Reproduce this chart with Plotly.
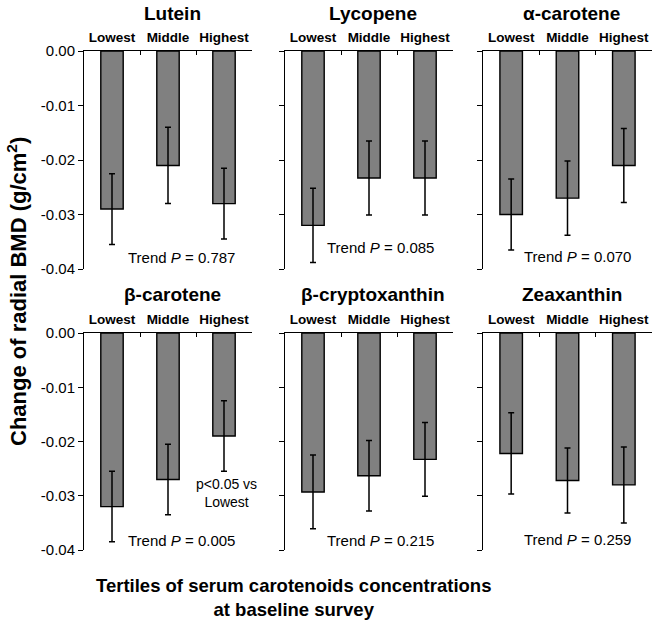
import plotly.graph_objects as go

categories = ["Lowest", "Middle", "Highest"]
panel_titles = ["Lutein", "Lycopene", "α-carotene", "β-carotene", "β-cryptoxanthin", "Zeaxanthin"]
means = {
    "Lutein": [-0.029, -0.021, -0.028],
    "Lycopene": [-0.032, -0.0233, -0.0233],
    "α-carotene": [-0.030, -0.027, -0.021],
    "β-carotene": [-0.032, -0.027, -0.019],
    "β-cryptoxanthin": [-0.0293, -0.0263, -0.0233],
    "Zeaxanthin": [-0.0222, -0.0272, -0.0280],
}
errors = {
    "Lutein": [0.0065, 0.0070, 0.0065],
    "Lycopene": [0.0068, 0.0068, 0.0068],
    "α-carotene": [0.0065, 0.0068, 0.0068],
    "β-carotene": [0.0065, 0.0065, 0.0065],
    "β-cryptoxanthin": [0.0068, 0.0065, 0.0068],
    "Zeaxanthin": [0.0075, 0.0060, 0.0070],
}
trend_p = ["0.787", "0.085", "0.070", "0.005", "0.215", "0.259"]
y_tickvals = [0.0, -0.01, -0.02, -0.03, -0.04]
y_ticktext = ["0.00", "-0.01", "-0.02", "-0.03", "-0.04"]

W, H = 658, 627
FONT = "Liberation Sans, Arial, sans-serif"

# pixel layout (window coordinates)
col_px = [(84, 252), (285, 453), (483, 652)]
row_px = [(51, 269), (333, 550)]

def px_x(x):
    return x / W

def px_y(y):
    return 1 - y / H

fig = go.Figure()
for i, name in enumerate(panel_titles):
    r, c = divmod(i, 3)
    n = i + 1
    xa = "x" if n == 1 else f"x{n}"
    ya = "y" if n == 1 else f"y{n}"
    fig.add_trace(go.Bar(
        x=categories, y=means[name], xaxis=xa, yaxis=ya,
        width=0.4,
        marker=dict(color="#808080", line=dict(color="black", width=1.4)),
        error_y=dict(type="data", array=errors[name], visible=True,
                     color="black", thickness=1.5, width=3),
        showlegend=False,
    ))
    xkey = "xaxis" if n == 1 else f"xaxis{n}"
    ykey = "yaxis" if n == 1 else f"yaxis{n}"
    x0, x1 = col_px[c]
    y0, y1 = row_px[r]
    fig.layout[xkey] = dict(
        domain=[px_x(x0), min(1.0, px_x(x1))], anchor=ya, side="top", type="category",
        range=[-0.5, 2.5], showline=True, linecolor="black", linewidth=1,
        ticks="inside", tickson="boundaries", ticklen=4, tickcolor="black",
        tickangle=0, automargin=False, ticklabelstandoff=3,
        tickfont=dict(family=FONT, size=13.5, color="black", weight="bold"),
        showgrid=False, zeroline=False,
    )
    fig.layout[ykey] = dict(
        domain=[px_y(y1), px_y(y0)], anchor=xa, range=[-0.04, 0],
        showline=True, linecolor="black", linewidth=1,
        ticks="outside", ticklen=5, tickcolor="black", automargin=False,
        tickvals=y_tickvals, ticktext=y_ticktext,
        showticklabels=(c == 0),
        tickfont=dict(family=FONT, size=15, color="black"),
        showgrid=False, zeroline=False,
    )
    # panel title
    title_y = 13 if r == 0 else 294
    fig.add_annotation(
        x=px_x((x0 + x1) / 2 + 4), y=px_y(title_y), xref="paper", yref="paper",
        text=f"<b>{name}</b>", showarrow=False, xanchor="center", yanchor="middle",
        font=dict(family=FONT, size=19, color="black"),
    )
    # trend annotation
    tx = 0.58 if c == 0 else (0.57 if c == 1 else 0.56)
    ty_px = [257, 248, 256, 540, 540, 539][i]
    fig.add_annotation(
        x=px_x(x0 + tx * (x1 - x0)), y=px_y(ty_px), xref="paper", yref="paper",
        text=f"Trend <i>P</i> = {trend_p[i]}", showarrow=False,
        xanchor="center", yanchor="middle",
        font=dict(family=FONT, size=15, color="black"),
    )

fig.add_annotation(
    x=px_x(226), y=px_y(493), xref="paper", yref="paper",
    text="p<0.05 vs<br>Lowest", showarrow=False, xanchor="center", yanchor="middle",
    font=dict(family=FONT, size=14, color="black"),
)
fig.add_annotation(
    x=px_x(17), y=px_y(292), xref="paper", yref="paper",
    text="<b>Change of radial BMD (g/cm<sup>2</sup>)</b>", textangle=-90,
    showarrow=False, xanchor="center", yanchor="middle",
    font=dict(family=FONT, size=22, color="black"),
)
fig.add_annotation(
    x=px_x(293), y=px_y(597), xref="paper", yref="paper",
    text="<b>Tertiles of serum carotenoids concentrations<br>at baseline survey</b>",
    showarrow=False, xanchor="center", yanchor="middle",
    font=dict(family=FONT, size=18.5, color="black"),
)

fig.update_layout(
    width=W, height=H, margin=dict(l=0, r=0, t=0, b=0),
    plot_bgcolor="white", paper_bgcolor="white",
    bargap=0.6,
)
fig.write_html("out.html", config={"displayModeBar": False},
               post_script="document.body.style.margin='0';document.body.style.overflow='hidden';")
